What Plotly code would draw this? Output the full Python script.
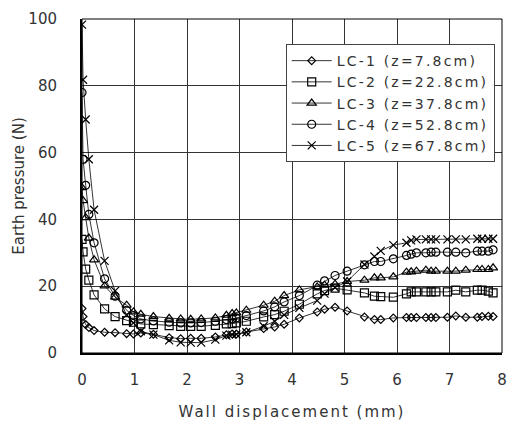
import plotly.graph_objects as go

x = [0, 0.02, 0.07, 0.13, 0.23, 0.43, 0.63, 0.85, 0.98, 1.12, 1.36, 1.66, 1.88, 2.07, 2.27,
     2.54, 2.75, 2.86, 2.94, 3.13, 3.46, 3.67, 3.85, 4.14, 4.48, 4.62, 4.82, 5.05, 5.38, 5.57,
     5.69, 5.93, 6.18, 6.27, 6.37, 6.55, 6.65, 6.74, 6.96, 7.12, 7.31, 7.53, 7.62, 7.74, 7.83]

lc1 = [13.3, 10.9, 8.5, 7.6, 6.7, 6.2, 6.1, 5.8, 5.7, 6.0, 5.6, 4.6, 4.3, 4.4, 4.4,
       4.8, 5.5, 5.7, 5.7, 6.3, 7.3, 7.8, 8.6, 10.5, 12.3, 13.1, 13.7, 12.6, 10.8, 10.0,
       10.0, 10.5, 10.6, 10.6, 10.6, 10.6, 10.6, 10.6, 10.7, 11.1, 10.7, 10.7, 10.9, 11.0, 10.9]
lc2 = [34.0, 30.3, 25.1, 21.8, 17.4, 13.2, 10.9, 9.7, 9.2, 8.7, 8.5, 8.2, 8.0, 8.0, 8.0,
       8.3, 8.7, 8.8, 9.0, 9.5, 10.8, 11.5, 12.5, 14.6, 17.7, 18.7, 19.4, 18.9, 18.0, 17.0,
       16.9, 16.7, 17.7, 18.3, 18.3, 18.3, 18.3, 18.3, 18.3, 18.8, 18.3, 18.8, 18.8, 18.5, 18.0]
lc3 = [49.5, 45.6, 40.5, 34.4, 27.9, 20.1, 16.7, 14.3, 12.3, 11.6, 10.9, 10.4, 10.2, 10.1, 10.2,
       10.5, 11.3, 11.8, 12.0, 12.8, 14.3, 15.5, 17.2, 18.9, 19.8, 20.3, 20.6, 21.4, 21.8, 22.5,
       22.5, 22.8, 24.2, 24.3, 24.5, 24.8, 24.5, 24.5, 24.5, 24.5, 24.8, 25.0, 25.0, 25.0, 25.5]
lc4 = [78.0, 58.0, 50.2, 41.5, 33.0, 22.2, 17.0, 12.8, 11.2, 10.2, 9.6, 9.2, 9.0, 9.0, 9.1,
       9.5, 10.0, 10.2, 10.5, 11.2, 12.6, 13.8, 15.3, 17.2, 20.3, 21.6, 23.2, 24.5, 26.4, 27.4,
       27.4, 28.2, 29.2, 29.6, 30.0, 30.0, 30.2, 30.2, 30.2, 30.2, 30.0, 30.5, 30.5, 30.5, 30.9]
lc5 = [98.3, 81.8, 69.9, 58.0, 42.9, 27.6, 18.6, 11.4, 9.0, 6.5, 5.5, 3.8, 3.2, 3.1, 3.1,
       4.0, 5.2, 5.5, 5.6, 6.2, 8.0, 9.5, 11.4, 13.5, 15.7, 17.8, 19.6, 21.4, 26.5, 28.9,
       30.6, 32.3, 33.0, 33.7, 34.0, 34.0, 34.0, 34.0, 34.0, 34.0, 34.0, 34.2, 34.2, 34.2, 34.2]

names = ["LC-1 (z=7.8cm)", "LC-2 (z=22.8cm)", "LC-3 (z=37.8cm)", "LC-4 (z=52.8cm)", "LC-5 (z=67.8cm)"]
series = [lc1, lc2, lc3, lc4, lc5]
symbols = ["diamond-open", "square-open", "triangle-up-open", "circle-open", "x-thin-open"]
sizes = [6, 8, 8, 8, 8]

x_ticks = [0, 1, 2, 3, 4, 5, 6, 7, 8]
y_ticks = [0, 20, 40, 60, 80, 100]


def spaced(t, px):
    return '<span style="letter-spacing:%spx">%s</span>' % (px, t)


fig = go.Figure()
for nm, ys, sym, sz in zip(names, series, symbols, sizes):
    fig.add_trace(go.Scatter(
        x=x, y=ys, name=spaced(nm, 2.2), mode="lines+markers",
        line=dict(color="black", width=0.8),
        marker=dict(symbol=sym, size=sz, color="black",
                    line=dict(color="black", width=1.2)),
    ))

font = "DejaVu Sans, Noto Sans CJK KR, sans-serif"
fig.update_layout(
    width=517, height=428,
    margin=dict(l=82, r=10, t=11, b=74),
    paper_bgcolor="white", plot_bgcolor="white",
    font=dict(family=font, size=14, color="#333"),
    showlegend=True,
    legend=dict(x=0.485, y=0.925, xanchor="left", yanchor="top",
                bgcolor="white", bordercolor="#444", borderwidth=1,
                font=dict(size=14, color="#333"), tracegroupgap=0,
                itemwidth=40),
    xaxis=dict(range=[0, 8], tickvals=x_ticks, showgrid=True, gridcolor="#333", gridwidth=1,
               showline=True, linecolor="black", linewidth=2, mirror=False,
               zeroline=False, ticks="", ticklabelstandoff=12,
               tickfont=dict(size=15),
               title=dict(text=spaced("Wall displacement (mm)", 2), font=dict(size=15, color="#333"), standoff=18)),
    yaxis=dict(range=[0, 100], tickvals=y_ticks, showgrid=True, gridcolor="#333", gridwidth=1,
               showline=True, linecolor="black", linewidth=2, mirror=False,
               zeroline=False, ticks="", ticklabelstandoff=20,
               tickfont=dict(size=15),
               title=dict(text="Earth pressure (N)", font=dict(size=15, color="#333"), standoff=0)),
)
fig.add_shape(type="rect", xref="paper", yref="paper", x0=0, y0=0, x1=1, y1=1,
              line=dict(color="black", width=1), layer="above")

fig.write_html("out.html")
